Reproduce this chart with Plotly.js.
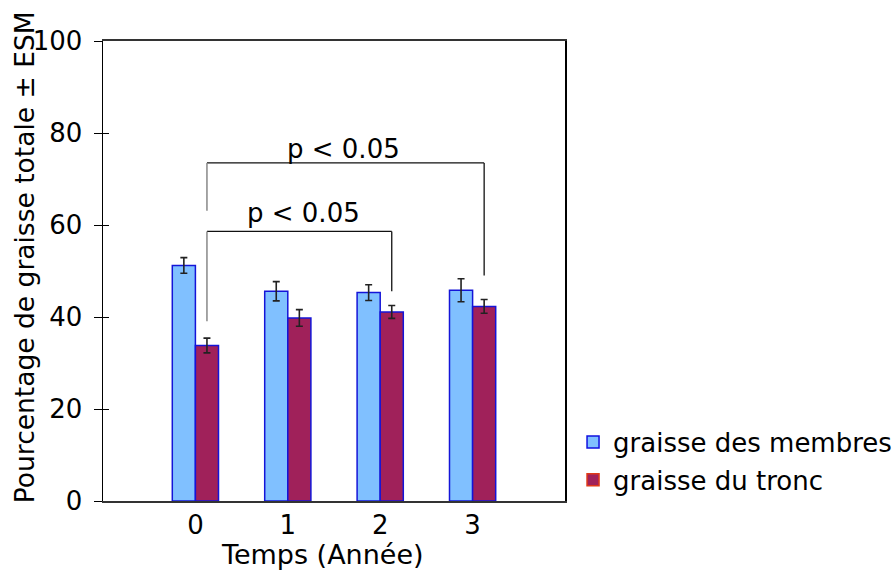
<!DOCTYPE html>
<html>
<head>
<meta charset="utf-8">
<script src="https://cdn.plot.ly/plotly-3.0.1.min.js"></script>
<style>html,body{margin:0;padding:0;background:#fff;}#chart{width:893px;height:581px;}</style>
</head>
<body>
<div id="chart"></div>
<script>
// Data
var categories = [0, 1, 2, 3];
var seriesNames = ["graisse des membres", "graisse du tronc"];
var membres = [51.2, 45.6, 45.3, 45.8];
var membresErr = [1.7, 2.1, 1.7, 2.5];
var tronc = [33.8, 39.8, 41.1, 42.3];
var troncErr = [1.6, 1.8, 1.4, 1.5];
var yTicks = [0, 20, 40, 60, 80, 100];
var xTitle = "Temps (Année)";
var yTitle = "Pourcentage de graisse totale ± ESM";
// Significance brackets: from category to category, bracket height, leg bottoms
var sigFrom = [0, 0];
var sigTo = [2, 3];
var sigHeight = [58.6, 73.5];
var sigLeftBottom = [39.1, 63.1];
var sigRightBottom = [45.6, 49.0];
var sigText = ["p < 0.05", "p < 0.05"];
var sigTextX = [1.17, 1.60];
var sigTextY = [62.6, 76.6];

var FONT = "DejaVu Sans, Verdana, sans-serif";
var FS = 26;
var blueFill = "#80C0FF", redFill = "#A0215A", edge = "#1414D8";
var legOffset = 0.125;

var traces = [
  {type: "bar", x: categories, y: membres, name: seriesNames[0], showlegend: false, offsetgroup: "a",
   marker: {color: blueFill, line: {color: edge, width: 1.5}},
   error_y: {type: "data", array: membresErr, visible: true, color: "#222", thickness: 1.6, width: 3.5}},
  {type: "bar", x: categories, y: tronc, name: seriesNames[1], showlegend: false, offsetgroup: "b",
   marker: {color: redFill, line: {color: edge, width: 1.5}},
   error_y: {type: "data", array: troncErr, visible: true, color: "#222", thickness: 1.6, width: 3.5}},
  {type: "bar", x: [null], y: [null], name: seriesNames[0], legendgroup: "a", offsetgroup: "a",
   marker: {color: blueFill, line: {color: "#1010E0", width: 1.5}}},
  {type: "bar", x: [null], y: [null], name: seriesNames[1], legendgroup: "b", offsetgroup: "b",
   marker: {color: redFill, line: {color: "#E03818", width: 1.5}}},
  // empty helper so the inward tick axis is drawn
  {type: "scatter", mode: "lines", x: [null], y: [null], yaxis: "y2", showlegend: false, hoverinfo: "skip"}
];

var shapes = [];
var annotations = [];
for (var i = 0; i < sigFrom.length; i++) {
  var xl = sigFrom[i] + legOffset, xr = sigTo[i] + legOffset;
  shapes.push({type: "line", xref: "x", yref: "y", x0: xl, x1: xr, y0: sigHeight[i], y1: sigHeight[i], line: {color: "#111", width: 1.3}});
  shapes.push({type: "line", xref: "x", yref: "y", x0: xl, x1: xl, y0: sigHeight[i], y1: sigLeftBottom[i], line: {color: "#888", width: 1.5}});
  shapes.push({type: "line", xref: "x", yref: "y", x0: xr, x1: xr, y0: sigHeight[i], y1: sigRightBottom[i], line: {color: "#111", width: 1.3}});
  annotations.push({xref: "x", yref: "y", x: sigTextX[i], y: sigTextY[i], text: sigText[i], showarrow: false,
    xanchor: "center", yanchor: "middle", font: {family: FONT, size: FS, color: "#000"}});
}
// axis titles as text
annotations.push({xref: "paper", yref: "paper", x: -0.171, y: 0.530, text: yTitle, showarrow: false, textangle: -90,
  xanchor: "center", yanchor: "middle", font: {family: FONT, size: 26.5, color: "#000"}});
annotations.push({xref: "paper", yref: "paper", x: 0.476, y: -0.117, text: xTitle, showarrow: false,
  xanchor: "center", yanchor: "middle", font: {family: FONT, size: 27, color: "#000"}});

var layout = {
  width: 893, height: 581,
  margin: {l: 103, r: 328, t: 41, b: 80, pad: 0},
  paper_bgcolor: "#fff", plot_bgcolor: "#fff",
  font: {family: FONT, size: FS, color: "#000"},
  barmode: "group", bargap: 0.5, bargroupgap: 0,
  showlegend: true,
  legend: {xref: "container", yref: "container", x: 0.6417, xanchor: "left", y: 0.2797, yanchor: "top",
           traceorder: "grouped", tracegroupgap: 1,
           font: {family: FONT, size: FS, color: "#000"}, bgcolor: "rgba(0,0,0,0)", itemwidth: 30},
  xaxis: {range: [-1, 4], tickvals: categories, ticktext: categories.map(String), ticks: "", showgrid: false, zeroline: false,
          showline: true, linecolor: "#333", linewidth: 2, mirror: true},
  yaxis: {range: [0, 100], tickvals: yTicks, ticks: "outside", ticklen: 8, tickcolor: "#000", tickwidth: 1, showgrid: false, zeroline: false,
          showline: true, linecolor: "#000", linewidth: 1.5, mirror: true, ticklabelstandoff: 6},
  yaxis2: {range: [0, 100], overlaying: "y", side: "left", anchor: "x", tickvals: yTicks, ticks: "inside", ticklen: 6,
           tickcolor: "#000", tickwidth: 1, showticklabels: false, showgrid: false, zeroline: false, showline: false},
  shapes: shapes,
  annotations: annotations
};

Plotly.newPlot("chart", traces, layout, {displayModeBar: false, staticPlot: true});
</script>
</body>
</html>
